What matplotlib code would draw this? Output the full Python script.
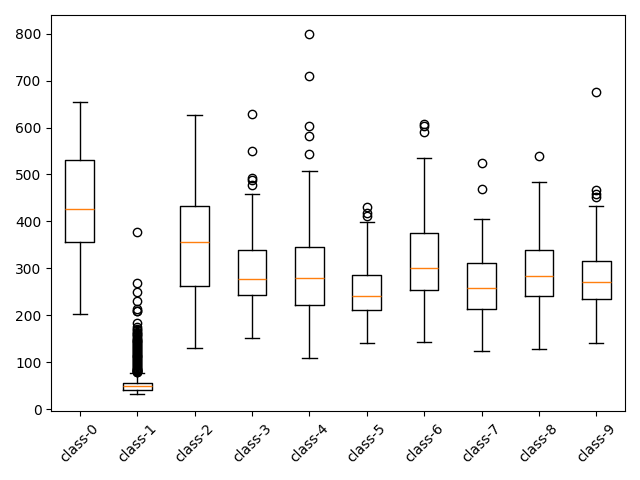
import matplotlib
matplotlib.use("Agg")
import matplotlib.pyplot as plt

labels = [f"class-{i}" for i in range(10)]
whislo = [203, 33, 129, 152, 109, 141, 143, 124, 128, 141]
q1 = [357, 41, 263, 243, 222, 211, 254, 213, 241, 235]
med = [426, 48, 357, 277, 279, 241, 301, 258, 284, 271]
q3 = [531, 56, 433, 338, 345, 286, 375, 311, 340, 316]
whishi = [655, 76, 627, 458, 507, 399, 536, 405, 485, 433]
fliers = [
    [],
    [377, 269, 250, 230, 213, 210, 208, 183, 175, 171, 168, 165, 162, 160, 157,
     155, 152, 150, 148, 146, 144, 142, 140, 138, 136, 134, 132, 130, 128, 126,
     124, 122, 120, 118, 116, 114, 112, 110, 108, 106, 104, 102, 100, 98, 96,
     94, 92, 90, 88, 86, 85, 84, 83, 82, 81, 80, 79, 78],
    [],
    [629, 551, 492, 488, 478],
    [799, 710, 603, 582, 544],
    [431, 417, 411],
    [607, 604, 591],
    [525, 469],
    [539],
    [676, 467, 458, 451],
]

stats = []
for i in range(10):
    stats.append(dict(label=labels[i], whislo=whislo[i], q1=q1[i], med=med[i],
                      q3=q3[i], whishi=whishi[i], fliers=fliers[i]))

fig, ax = plt.subplots(figsize=(6.4, 4.8), dpi=100)
ax.bxp(stats)
ax.set_ylim(-5, 840)
plt.setp(ax.get_xticklabels(), rotation=45)
fig.tight_layout()
fig.savefig("out.png")
